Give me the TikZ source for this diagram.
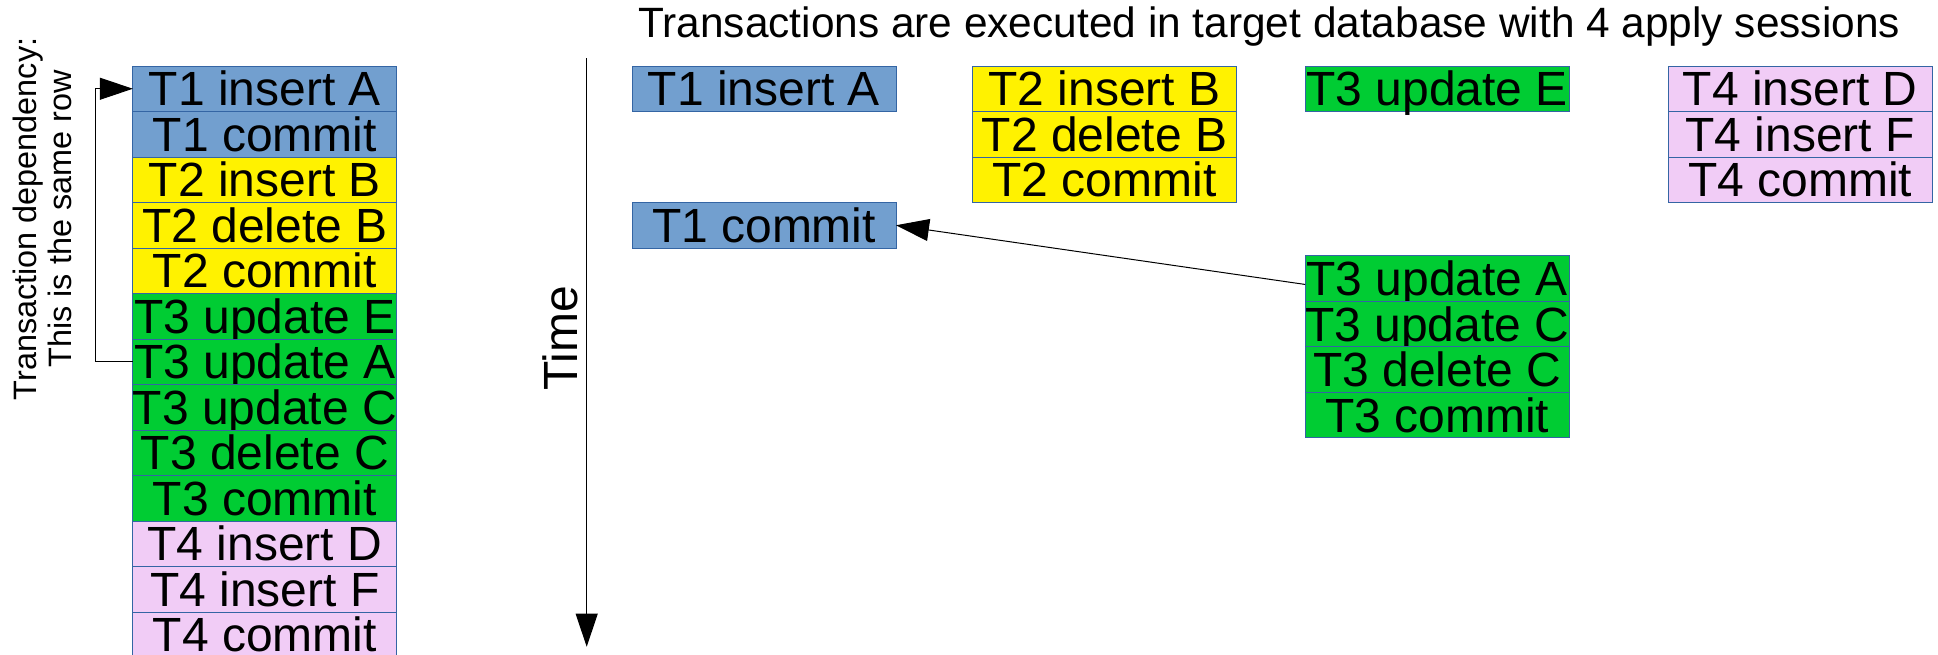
\documentclass[tikz,border=0pt]{standalone}
\usepackage{fontspec}
\setmainfont{Liberation Sans}
\usetikzlibrary{positioning,arrows.meta,calc}

\definecolor{txblue}{RGB}{114,159,207}
\definecolor{txyellow}{RGB}{255,242,0}
\definecolor{txgreen}{RGB}{0,204,51}
\definecolor{txpink}{RGB}{241,204,246}
\definecolor{txborder}{RGB}{52,101,164}

\tikzset{
  op/.style={draw=txborder, line width=0.75pt, minimum width=198pt, minimum height=34.125pt,
    inner sep=0pt, outer sep=0pt, text height=25.8pt, text depth=0pt,
    font=\fontsize{36pt}{42pt}\selectfont},
  tone/.style={op, fill=txblue},
  ttwo/.style={op, fill=txyellow},
  tthree/.style={op, fill=txgreen},
  tfour/.style={op, fill=txpink},
  dep/.style={line width=0.75pt, -{Triangle[length=24.75pt,width=16.5pt]}},
}

\begin{document}
\begin{tikzpicture}[x=0.75pt,y=0.75pt,yscale=-1,xscale=1]
\useasboundingbox (0,0) rectangle (1938,654);

% Text Node
\node[anchor=base west, inner sep=0pt, font=\fontsize{31.8pt}{36pt}\selectfont] (title) at (638,37.5)
  {Transactions are executed in target database with 4 apply sessions};

%Shape: Rectangle -- source log, one row per operation
\node[tone] (log1) at (264.85,88.75) {T1 insert A};
\node[tone, below=0pt of log1] (log2) {T1 commit};
\node[ttwo, below=0pt of log2] (log3) {T2 insert B};
\node[ttwo, below=0pt of log3] (log4) {T2 delete B};
\node[ttwo, below=0pt of log4] (log5) {T2 commit};
\node[tthree, below=0pt of log5] (log6) {T3 update E};
\node[tthree, below=0pt of log6] (log7) {T3 update A};
\node[tthree, below=0pt of log7] (log8) {T3 update C};
\node[tthree, below=0pt of log8] (log9) {T3 delete C};
\node[tthree, below=0pt of log9] (log10) {T3 commit};
\node[tfour, below=0pt of log10] (log11) {T4 insert D};
\node[tfour, below=0pt of log11] (log12) {T4 insert F};
\node[tfour, below=0pt of log12] (log13) {T4 commit};

% Text Node
\node[rotate=90, align=center, inner sep=0pt, font=\fontsize{24.3pt}{26.25pt}\selectfont] (depnote) at (42.3,219)
  {Transaction dependency:\\This is the same row};

%Straight Lines -- same row
\draw[dep] (log7.west) -- ++(-37,0) |- (log1.west);

%Straight Lines -- time axis
\coordinate (time start) at (586.7,58);
\coordinate (time end) at (586.7,646.7);
\draw[dep] (time start) -- (time end);
% Text Node
\node[rotate=90, inner sep=0pt, font=\fontsize{36pt}{42pt}\selectfont] (timelabel) at (560.8,338.3) {Time};

%Shape: Rectangle -- session 1
\node[tone] (s1a) at (764,88.75) {T1 insert A};
\node[tone] (s1b) at (764,225.25) {T1 commit};

%Shape: Rectangle -- session 2
\node[ttwo] (s2a) at (1104.6,88.75) {T2 insert B};
\node[ttwo, below=0pt of s2a] (s2b) {T2 delete B};
\node[ttwo, below=0pt of s2b] (s2c) {T2 commit};

%Shape: Rectangle -- session 3
\node[tthree] (s3a) at (1437.2,88.75) {T3 update E};
\node[tthree] (s3b) at (1437.2,278.45) {T3 update A};
\node[tthree, below=0pt of s3b] (s3c) {T3 update C};
\node[tthree, below=0pt of s3c] (s3d) {T3 delete C};
\node[tthree, below=0pt of s3d] (s3e) {T3 commit};

%Shape: Rectangle -- session 4
\node[tfour] (s4a) at (1800.25,88.75) {T4 insert D};
\node[tfour, below=0pt of s4a] (s4b) {T4 insert F};
\node[tfour, below=0pt of s4b] (s4c) {T4 commit};

%Straight Lines -- T3 waits for T1
\draw[dep] ($(s3b.west)+(0,6)$) -- (s1b.east);

\end{tikzpicture}
\end{document}
